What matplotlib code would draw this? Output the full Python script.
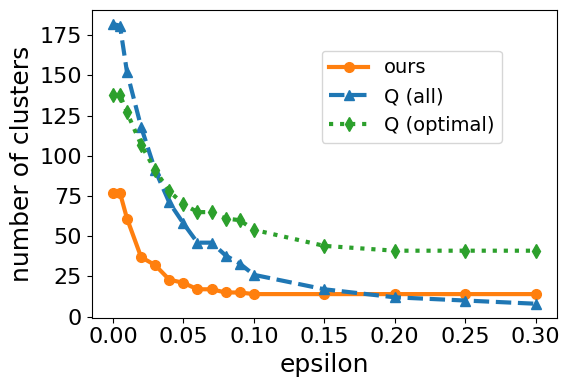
import matplotlib
matplotlib.use("Agg")
import matplotlib.pyplot as plt

eps = [0, 0.005, 0.01, 0.02, 0.03, 0.04, 0.05, 0.06, 0.07, 0.08, 0.09, 0.1, 0.15, 0.2, 0.25, 0.3]
ours = [77, 77, 61, 37, 32, 23, 21, 17, 17, 15, 15, 14, 14, 14, 14, 14]
q_all = [182, 181, 152, 118, 91, 71, 58, 46, 46, 38, 33, 26, 17, 12, 10, 8]
q_opt = [138, 138, 127, 107, 91, 78, 70, 65, 65, 61, 60, 54, 44, 41, 41, 41]

fig, ax = plt.subplots(figsize=(5.7, 3.87), dpi=100)
ax.plot(eps, ours, "-o", color="tab:orange", lw=3, ms=7, label="ours")
ax.plot(eps, q_all, "--^", color="tab:blue", lw=3, ms=7, label="Q (all)")
ax.plot(eps, q_opt, ":d", color="tab:green", lw=3, ms=7, label="Q (optimal)")

ax.set_xlabel("epsilon", fontsize=18)
ax.set_ylabel("number of clusters", fontsize=18)
ax.set_xticks([0, 0.05, 0.1, 0.15, 0.2, 0.25, 0.3])
ax.set_yticks([0, 25, 50, 75, 100, 125, 150, 175])
ax.tick_params(labelsize=16)
ax.legend(fontsize=14, loc="upper right", bbox_to_anchor=(0.903, 0.9))

plt.subplots_adjust(left=0.161, right=0.977, top=0.974, bottom=0.179)
plt.savefig("out.png")
